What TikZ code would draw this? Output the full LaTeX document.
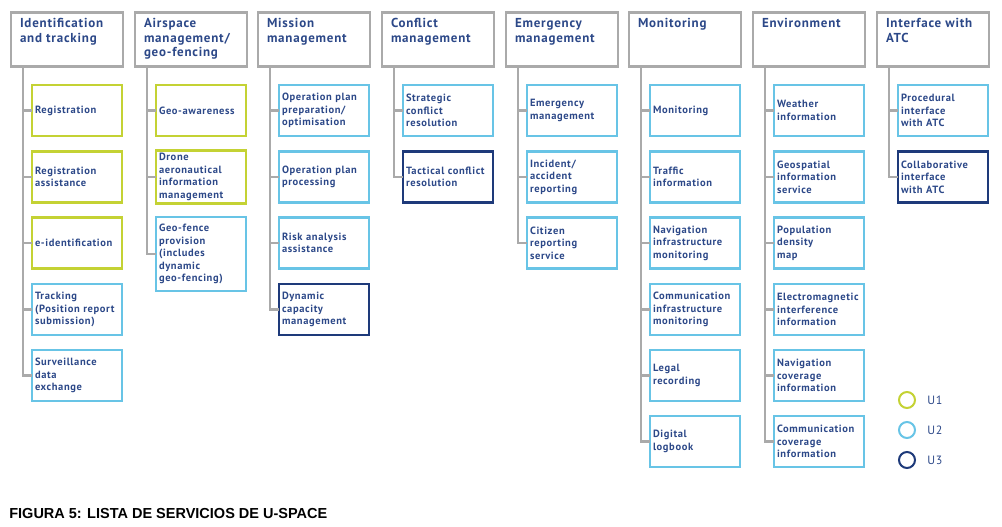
\documentclass[tikz,border=0pt]{standalone}
\usepackage{fontspec}
\setmainfont{PT Sans}[LetterSpace=6]
\newfontfamily\capfont{Liberation Sans}
\usetikzlibrary{positioning}

\definecolor{txtblue}{RGB}{44,72,136}
\definecolor{linegrey}{RGB}{170,170,170}
\definecolor{coluone}{RGB}{196,210,52}
\definecolor{colutwo}{RGB}{104,196,230}
\definecolor{coluthree}{RGB}{30,58,122}

\newcommand{\headtext}[1]{\parbox[c][42pt][t]{94pt}{\raggedright #1}}

\begin{document}
\begin{tikzpicture}[x=1pt,y=-1pt]
                        \tikzstyle{every node} = [text=txtblue,outer sep=0pt];
                        \tikzstyle{head} = [draw=linegrey,line width=2.5pt,minimum width=112pt,minimum height=54pt,inner sep=0pt,font=\fontsize{13}{14.5}\selectfont\bfseries];
                        \tikzstyle{serv} = [line width=2.5pt,minimum width=90pt,minimum height=51pt,inner sep=3pt,text width=84pt,align=left,font=\fontsize{10.5}{12.5}\selectfont\bfseries];
                        \tikzstyle{uone} = [serv,draw=coluone];
                        \tikzstyle{utwo} = [serv,draw=colutwo];
                        \tikzstyle{uthree} = [serv,draw=coluthree];
                        \tikzstyle{conn} = [draw=linegrey,line width=2.5pt];
                        \tikzstyle{key} = [circle,line width=2pt,minimum size=16pt,inner sep=0pt];
                        \useasboundingbox (0,0) rectangle (1002,527);
                        % headers
                        \node[head] (h1) at (67, 39.5) {\headtext{Identification\\and tracking}};
                        \node[head] (h2) at (191, 39.5) {\headtext{Airspace\\management/\\geo-fencing}};
                        \node[head] (h3) at (314, 39.5) {\headtext{Mission\\management}};
                        \node[head] (h4) at (438, 39.5) {\headtext{Conflict\\management}};
                        \node[head] (h5) at (562, 39.5) {\headtext{Emergency\\management}};
                        \node[head] (h6) at (685, 39.5) {\headtext{Monitoring}};
                        \node[head] (h7) at (809, 39.5) {\headtext{Environment}};
                        \node[head] (h8) at (933, 39.5) {\headtext{Interface with\\ATC}};
                        % services
                        \node[uone] (a1) at (77, 110.5) {Registration};
                        \node[uone] (a2) at (77, 177) {Registration\\assistance};
                        \node[uone] (a3) at (77, 243) {e-identification};
                        \node[utwo] (a4) at (77, 309.5) {Tracking\\(Position report\\submission)};
                        \node[utwo] (a5) at (77, 375.5) {Surveillance\\data\\exchange};
                        \node[uone] (b1) at (201, 110.5) {Geo-awareness};
                        \node[uone] (b2) at (201, 177) {Drone\\aeronautical\\information\\management};
                        \node[utwo,minimum height=74pt] (b3) at (201, 254) {Geo-fence\\provision\\(includes\\dynamic\\geo-fencing)};
                        \node[utwo] (c1) at (324, 110.5) {Operation plan\\preparation/\\optimisation};
                        \node[utwo] (c2) at (324, 177) {Operation plan\\processing};
                        \node[utwo] (c3) at (324, 243) {Risk analysis\\assistance};
                        \node[uthree] (c4) at (324, 309.5) {Dynamic\\capacity\\management};
                        \node[utwo] (d1) at (448, 110.5) {Strategic\\conflict\\resolution};
                        \node[uthree] (d2) at (448, 177) {Tactical conflict\\resolution};
                        \node[utwo] (e1) at (572, 110.5) {Emergency\\management};
                        \node[utwo] (e2) at (572, 177) {Incident/\\accident\\reporting};
                        \node[utwo] (e3) at (572, 243) {Citizen\\reporting\\service};
                        \node[utwo] (f1) at (695, 110.5) {Monitoring};
                        \node[utwo] (f2) at (695, 177) {Traffic\\information};
                        \node[utwo] (f3) at (695, 243) {Navigation\\infrastructure\\monitoring};
                        \node[utwo] (f4) at (695, 309.5) {Communication\\infrastructure\\monitoring};
                        \node[utwo] (f5) at (695, 375.5) {Legal\\recording};
                        \node[utwo] (f6) at (695, 441.5) {Digital\\logbook};
                        \node[utwo] (g1) at (819, 110.5) {Weather\\information};
                        \node[utwo] (g2) at (819, 177) {Geospatial\\information\\service};
                        \node[utwo] (g3) at (819, 243) {Population\\density\\map};
                        \node[utwo] (g4) at (819, 309.5) {Electromagnetic\\interference\\information};
                        \node[utwo] (g5) at (819, 375.5) {Navigation\\coverage\\information};
                        \node[utwo] (g6) at (819, 441.5) {Communication\\coverage\\information};
                        \node[utwo] (k1) at (943, 110.5) {Procedural\\interface\\with ATC};
                        \node[uthree] (k2) at (943, 177) {Collaborative\\interface\\with ATC};
                        % tree lines
                        \draw[conn] ([xshift=12pt]h1.south west) |- (a5.west);
                        \foreach \n in {a1,a2,a3,a4} \draw[conn] (\n.west) -- ++(-8pt,0);
                        \draw[conn] ([xshift=12pt]h2.south west) |- (b3.west);
                        \foreach \n in {b1,b2} \draw[conn] (\n.west) -- ++(-8pt,0);
                        \draw[conn] ([xshift=12pt]h3.south west) |- (c4.west);
                        \foreach \n in {c1,c2,c3} \draw[conn] (\n.west) -- ++(-8pt,0);
                        \draw[conn] ([xshift=12pt]h4.south west) |- (d2.west);
                        \draw[conn] (d1.west) -- ++(-8pt,0);
                        \draw[conn] ([xshift=12pt]h5.south west) |- (e3.west);
                        \foreach \n in {e1,e2} \draw[conn] (\n.west) -- ++(-8pt,0);
                        \draw[conn] ([xshift=12pt]h6.south west) |- (f6.west);
                        \foreach \n in {f1,f2,f3,f4,f5} \draw[conn] (\n.west) -- ++(-8pt,0);
                        \draw[conn] ([xshift=12pt]h7.south west) |- (g6.west);
                        \foreach \n in {g1,g2,g3,g4,g5} \draw[conn] (\n.west) -- ++(-8pt,0);
                        \draw[conn] ([xshift=12pt]h8.south west) |- (k2.west);
                        \draw[conn] (k1.west) -- ++(-8pt,0);
                        % legend
                        \node[key,draw=coluone] (l1) at (907, 400) {};
                        \node[key,draw=colutwo] (l2) at (907, 430) {};
                        \node[key,draw=coluthree] (l3) at (907, 460) {};
                        \node[right=9pt of l1,font=\fontsize{12}{14}\selectfont] (t1) {U1};
                        \node[right=9pt of l2,font=\fontsize{12}{14}\selectfont] (t2) {U2};
                        \node[right=9pt of l3,font=\fontsize{12}{14}\selectfont] (t3) {U3};
                        % caption
                        \node[anchor=base west,text=black,font=\capfont\bfseries\fontsize{14.5}{16}\selectfont] (cap) at (6, 518) {FIGURA 5: LISTA DE SERVICIOS DE U-SPACE};
                    \end{tikzpicture}
\end{document}
